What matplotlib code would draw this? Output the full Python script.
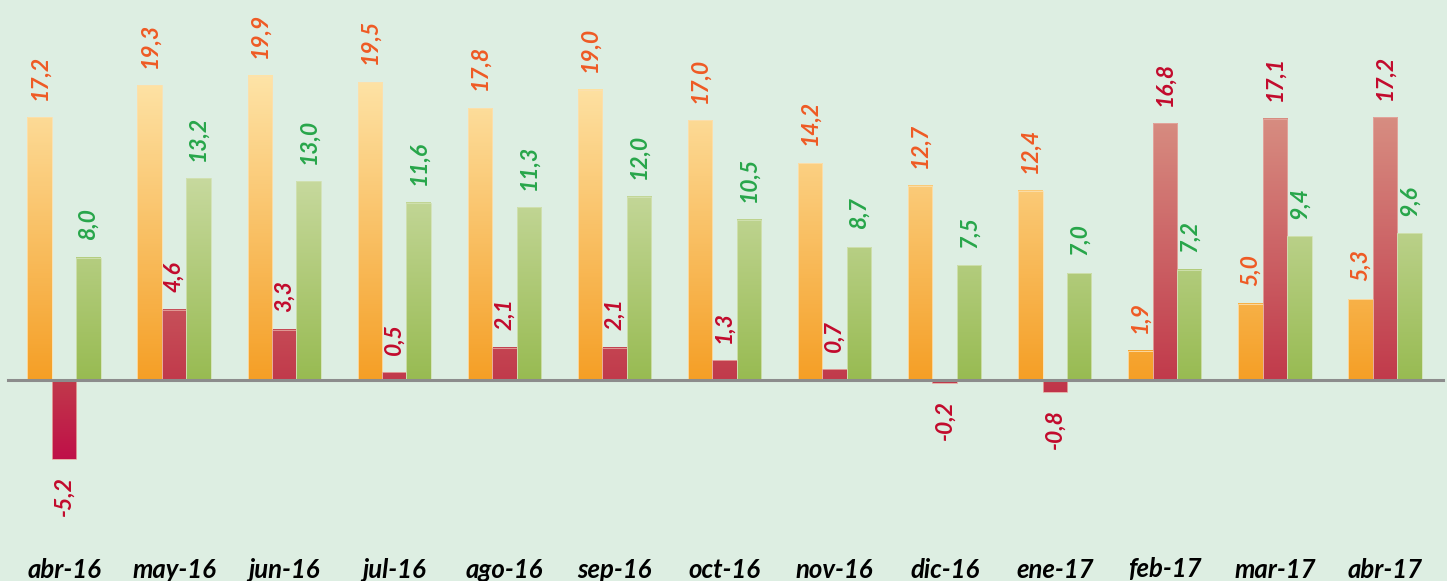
import numpy as np
import matplotlib.pyplot as plt
from matplotlib.colors import LinearSegmentedColormap, Normalize

# data
months = ['abr-16', 'may-16', 'jun-16', 'jul-16', 'ago-16', 'sep-16', 'oct-16',
          'nov-16', 'dic-16', 'ene-17', 'feb-17', 'mar-17', 'abr-17']
orange_vals = [17.2, 19.3, 19.9, 19.5, 17.8, 19.0, 17.0, 14.2, 12.7, 12.4, 1.9, 5.0, 5.3]
red_vals = [-5.2, 4.6, 3.3, 0.5, 2.1, 2.1, 1.3, 0.7, -0.2, -0.8, 16.8, 17.1, 17.2]
green_vals = [8.0, 13.2, 13.0, 11.6, 11.3, 12.0, 10.5, 8.7, 7.5, 7.0, 7.2, 9.4, 9.6]

bg = '#ddeee2'
plt.rcParams['font.family'] = ['Lato', 'DejaVu Sans']

fig = plt.figure(figsize=(14.47, 5.81), dpi=100, facecolor=bg)
ax = fig.add_axes([0, 36 / 581, 1, 545 / 581])
ax.set_facecolor(bg)

x = np.arange(len(months))
w = 0.222

# gradient colours (by value, like the original fill)
series = [
    (orange_vals, -w, LinearSegmentedColormap.from_list('o', ['#f59f26', '#fee4a8']), Normalize(0, 20),
     '#ef5a24', '#fbe0b0'),
    (red_vals, 0, LinearSegmentedColormap.from_list('r', [(0, '#bf1048'), (0.232, '#c13a4b'), (1, '#d78d81')]),
     Normalize(-5.2, 17.2), '#c20a2c', '#e4a8a0'),
    (green_vals, w, LinearSegmentedColormap.from_list('g', ['#98bb52', '#c7d99e']), Normalize(0, 13.2),
     '#27a64a', '#d2e2b4'),
]

for vals, off, cmap, norm, tcol, ecol in series:
    bars = ax.bar(x + off, vals, width=w, facecolor='none', edgecolor=ecol, linewidth=0.6, zorder=3)
    for b, v in zip(bars, vals):
        x0 = b.get_x()
        lo, hi = min(0, v), max(0, v)
        grad = np.linspace(lo, hi, 256).reshape(-1, 1)
        ax.imshow(grad, cmap=cmap, norm=norm, origin='lower', aspect='auto',
                  extent=[x0, x0 + w, lo, hi], zorder=2, interpolation='bilinear')
        lbl = f'{v:.1f}'.replace('.', ',')
        if v >= 0:
            ax.text(x0 + w / 2, v + 1.15, lbl, rotation=90, ha='center', va='bottom',
                    color=tcol, fontsize=16.5, fontweight='bold', fontstyle='italic', zorder=4)
        else:
            ax.text(x0 + w / 2, v - 1.1, lbl, rotation=90, ha='center', va='top',
                    color=tcol, fontsize=16.5, fontweight='bold', fontstyle='italic', zorder=4)

ax.axhline(0, xmin=8 / 1447, xmax=1443 / 1447, color='#8c8c8c', linewidth=2.2, zorder=5)

ax.set_xlim(-64 / 110.08, (1447 - 64) / 110.08)
ax.set_ylim(-165 / 15.28, 380 / 15.28)
ax.set_xticks(x)
ax.set_xticklabels(months, fontsize=18.5, fontweight='bold', fontstyle='italic', color='black')
ax.tick_params(axis='x', length=0, pad=9)
ax.set_yticks([])
for s in ax.spines.values():
    s.set_visible(False)

fig.savefig('out.png', dpi=100, facecolor=bg)
